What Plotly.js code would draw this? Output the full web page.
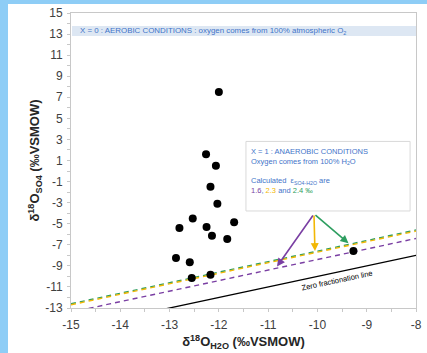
<!DOCTYPE html>
<html>
<head>
<meta charset="utf-8">
<script src="https://cdn.plot.ly/plotly-3.0.1.min.js"></script>
<style>
  html, body { margin: 0; padding: 0; background: #ffffff; }
  #wrap { width: 419px; height: 349px; border-left: 8px solid #8ecdf6; border-top: 4px solid #8ecdf6; background: #fff; }
  #chart { width: 419px; height: 349px; }
</style>
</head>
<body>
<div id="wrap"><div id="chart"></div></div>
<script>
// Measured samples: d18O of water (x) and of sulfate (y)
const sampleH2O = [-12.0, -12.26, -12.06, -12.17, -12.03, -12.53, -12.80, -12.25, -12.14, -11.69, -11.83, -12.87, -12.59, -12.55, -12.17, -9.27];
const sampleSO4 = [7.5, 1.6, 0.5, -1.5, -3.1, -4.5, -5.4, -5.3, -6.15, -4.85, -6.45, -8.25, -8.65, -10.15, -9.85, -7.6];

// Fractionation factors (‰) and their colours
const epsLabels = ["1.6", "2.3", "2.4"];
const epsValues = [1.6, 2.3, 2.4];
const epsColors = ["#7a3fa3", "#f2b705", "#2e9e60"];

// Tick values and labels (hyphen minus, as in the original)
const xTickVals = [-15, -14, -13, -12, -11, -10, -9, -8];
const xTickText = ["-15", "-14", "-13", "-12", "-11", "-10", "-9", "-8"];
const yTickVals = [-13, -11, -9, -7, -5, -3, -1, 1, 3, 5, 7, 9, 11, 13, 15];
const yTickText = ["-13", "-11", "-9", "-7", "-5", "-3", "-1", "1", "3", "5", "7", "9", "11", "13", "15"];

// x extent used for the reference lines
const lineX = [-15, -8];

// Arrow from the anaerobic box to each fractionation line
const arrowStart = [-10.07, -4.07];
const arrowEndX = [-10.82, -10.05, -9.37];
const arrowEndY = [-9.05, -7.6, -6.85];

const traces = [];
// zero fractionation line
traces.push({
  x: lineX, y: lineX.map(v => v), mode: 'lines', type: 'scatter',
  line: { color: '#000000', width: 1.3 }, hoverinfo: 'skip', showlegend: false
});
// dashed fractionation lines: purple, green, then yellow on top
[0, 2, 1].forEach(i => {
  traces.push({
    x: lineX, y: lineX.map(v => v + epsValues[i]), mode: 'lines', type: 'scatter',
    line: { color: epsColors[i], width: 1.4, dash: '5px,4px' },
    hoverinfo: 'skip', showlegend: false
  });
});
// samples
traces.push({
  x: sampleH2O, y: sampleSO4, mode: 'markers', type: 'scatter',
  marker: { color: '#000000', size: 8 }, showlegend: false
});

const annotations = [
  {
    x: -14.86, y: 13.3, xref: 'x', yref: 'y', xanchor: 'left', yanchor: 'middle', showarrow: false,
    text: 'X = 0 : AEROBIC CONDITIONS : oxygen comes from 100% atmospheric O<sub>2</sub>',
    font: { family: 'Liberation Sans, Arial, sans-serif', size: 7.9, color: '#3f74c9' }
  },
  {
    x: -11.38, y: 2.45, xref: 'x', yref: 'y', xanchor: 'left', yanchor: 'top', showarrow: false, align: 'left',
    text: 'X = 1 : ANAEROBIC CONDITIONS<br>Oxygen comes from 100% H<sub>2</sub>O<br> <br>Calculated  ε<sub>SO4-H2O</sub> are<br>' +
      '<span style="color:' + epsColors[0] + '">' + epsLabels[0] + '</span>, ' +
      '<span style="color:' + epsColors[1] + '">' + epsLabels[1] + '</span> and ' +
      '<span style="color:' + epsColors[2] + '">' + epsLabels[2] + ' ‰</span>',
    font: { family: 'Liberation Sans, Arial, sans-serif', size: 7.5, color: '#3f74c9' }
  },
  {
    x: -9.6, y: -10.4, xref: 'x', yref: 'y', showarrow: false, textangle: -12,
    text: 'Zero fractionation line',
    font: { family: 'Liberation Sans, Arial, sans-serif', size: 7.5, color: '#000000' }
  }
];
[0, 1, 2].forEach(i => {
  annotations.push({
    x: arrowEndX[i], y: arrowEndY[i], ax: arrowStart[0], ay: arrowStart[1],
    xref: 'x', yref: 'y', axref: 'x', ayref: 'y', text: '', showarrow: true,
    arrowhead: 2, arrowsize: 1, arrowwidth: 1.6, arrowcolor: epsColors[i]
  });
});

const layout = {
  width: 419, height: 349,
  margin: { l: 63, r: 11, t: 9, b: 45 },
  paper_bgcolor: '#ffffff', plot_bgcolor: '#ffffff',
  showlegend: false,
  font: { family: 'Liberation Sans, Arial, sans-serif', color: '#404040' },
  xaxis: {
    range: [-15, -8], tickmode: 'array', tickvals: xTickVals, ticktext: xTickText,
    showgrid: false, zeroline: false,
    showline: true, linecolor: '#c8c8c8', linewidth: 1, mirror: true,
    ticks: 'outside', ticklen: 3, tickcolor: '#c8c8c8', ticklabelstandoff: 3,
    minor: { dtick: 0.5, ticks: 'outside', ticklen: 3, tickcolor: '#c8c8c8' },
    tickfont: { size: 12, color: '#404040' },
    title: { text: '<b>δ<sup>18</sup>O<sub>H2O</sub> (‰VSMOW)</b>', font: { size: 13, color: '#262626' }, standoff: 5 }
  },
  yaxis: {
    range: [-13, 15], tickmode: 'array', tickvals: yTickVals, ticktext: yTickText,
    showgrid: false, zeroline: false,
    showline: true, linecolor: '#c8c8c8', linewidth: 1, mirror: true,
    ticks: 'outside', ticklen: 3, tickcolor: '#c8c8c8', ticklabelstandoff: 2,
    minor: { dtick: 1, ticks: 'outside', ticklen: 3, tickcolor: '#c8c8c8' },
    tickfont: { size: 12, color: '#404040' },
    title: { text: '<b>δ<sup>18</sup>O<sub>SO4</sub> (‰VSMOW)</b>', font: { size: 13, color: '#262626' }, standoff: 2 }
  },
  shapes: [
    { type: 'rect', xref: 'paper', yref: 'y', x0: 0.003, x1: 1, y0: 12.82, y1: 13.77,
      fillcolor: '#dde7f3', line: { width: 0 }, layer: 'below' },
    { type: 'rect', xref: 'x', yref: 'y', x0: -11.45, x1: -8.12, y0: -3.79, y1: 2.81,
      fillcolor: '#ffffff', line: { color: '#d9d9d9', width: 1 }, layer: 'below' }
  ],
  annotations: annotations
};

Plotly.newPlot('chart', traces, layout, { displayModeBar: false, staticPlot: true });
</script>
</body>
</html>
